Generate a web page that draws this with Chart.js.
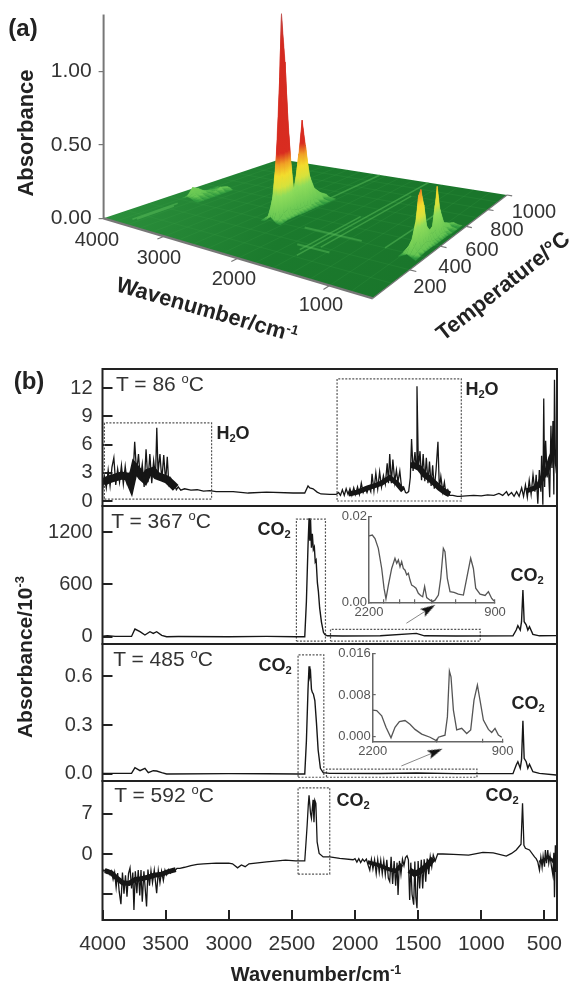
<!DOCTYPE html>
<html>
<head>
<meta charset="utf-8">
<script src="https://cdn.jsdelivr.net/npm/chart.js@4"></script>
<style>
  body { margin: 0; background: #fff; }
  #page { position: relative; width: 573px; height: 983px; overflow: hidden; font-family: "Liberation Sans", Arial, sans-serif; color: #333; filter: blur(0.35px); }
  canvas { position: absolute; left: 0; top: 0; }
  .t { position: absolute; white-space: nowrap; line-height: 1; transform: translate(-50%, -50%); }
  .b { font-weight: bold; color: #222; }
  .t sup { font-size: 62%; line-height: 0; vertical-align: 0.55em; }
  .t sub { font-size: 62%; line-height: 0; vertical-align: -0.25em; }
  .n { font-size: 20px; }
  .co { font-size: 18px; font-weight: bold; color: #222; }
  .temp { font-size: 21px; }
</style>
</head>
<body>
<div id="page">
  <div id="plots"></div>

  <div class="t b" style="left:23px;top:28px;font-size:24px">(a)</div>
  <div class="t b" style="left:29px;top:381px;font-size:24px">(b)</div>

  <div class="t b" style="left:26px;top:133px;font-size:22px;transform:translate(-50%,-50%) rotate(-90deg)">Absorbance</div>
  <div class="t n" style="left:97px;top:239px">4000</div>
  <div class="t n" style="left:159px;top:257px">3000</div>
  <div class="t n" style="left:234px;top:278px">2000</div>
  <div class="t n" style="left:321px;top:304px">1000</div>
  <div class="t n" style="left:534px;top:211px">1000</div>
  <div class="t n" style="left:507px;top:229px">800</div>
  <div class="t n" style="left:482px;top:249px">600</div>
  <div class="t n" style="left:455px;top:266px">400</div>
  <div class="t n" style="left:430px;top:286px">200</div>
  <div class="t b" style="left:207px;top:310px;font-size:22px;transform:translate(-50%,-50%) rotate(16deg)">Wavenumber/cm<sup>-1</sup></div>
  <div class="t b" style="left:503px;top:286px;font-size:22px;transform:translate(-50%,-50%) rotate(-38deg)">Temperature/°C</div>

  <div class="t temp" style="left:160px;top:383px">T = 86 <sup>o</sup>C</div>
  <div class="t temp" style="left:161px;top:520px">T = 367 <sup>o</sup>C</div>
  <div class="t temp" style="left:163px;top:658px">T = 485 <sup>o</sup>C</div>
  <div class="t temp" style="left:164px;top:794px">T = 592 <sup>o</sup>C</div>

  <div class="t co" style="left:233px;top:433px">H<sub>2</sub>O</div>
  <div class="t co" style="left:482px;top:389px">H<sub>2</sub>O</div>
  <div class="t co" style="left:274px;top:529px">CO<sub>2</sub></div>
  <div class="t co" style="left:527px;top:575px">CO<sub>2</sub></div>
  <div class="t co" style="left:275px;top:665px">CO<sub>2</sub></div>
  <div class="t co" style="left:528px;top:703px">CO<sub>2</sub></div>
  <div class="t co" style="left:353px;top:800px">CO<sub>2</sub></div>
  <div class="t co" style="left:502px;top:795px">CO<sub>2</sub></div>

  <div class="t b" style="left:24px;top:657px;font-size:21px;transform:translate(-50%,-50%) rotate(-90deg)">Absorbance/10<sup>-3</sup></div>
  <div class="t b" style="left:316px;top:974px;font-size:20px">Wavenumber/cm<sup>-1</sup></div>
</div>

<script>
// T = 86 C spectrum
const wn86 = [
  4000,3985,3970,3955,3940,3925,3910,3895,3880,3865,
  3850,3835,3820,3805,3790,3775,3760,3745,3730,3715,
  3700,3685,3670,3655,3640,3625,3610,3595,3580,3570,
  3560,3545,3530,3515,3500,3487,3475,3460,3445,3430,
  3415,3400,3380,3350,3300,3250,3200,3150,3100,2965,
  2846,2701,2490,2398,2372,2358,2332,2300,2270,2200,
  2150,2130,2115,2100,2085,2070,2055,2040,2025,2010,
  1995,1980,1965,1950,1935,1920,1905,1890,1875,1865,
  1850,1835,1820,1805,1790,1775,1760,1745,1735,1725,
  1712,1700,1685,1672,1660,1645,1630,1615,1600,1590,
  1575,1562,1552,1540,1525,1515,1509,1498,1485,1473,
  1460,1447,1435,1422,1410,1397,1385,1372,1358,1343,
  1332,1320,1305,1292,1280,1265,1250,1225,1190,1170,
  1120,1060,1000,950,900,860,830,800,785,760,
  740,720,700,680,665,650,635,620,605,590,
  575,565,552,540,528,522,512,505,498,490,
  478,470,458,448,440,432,425,420,412,405,400];
const abs86 = [
  1.2,2.6,1.4,3.3,1.6,3.6,4.6,1.7,3.4,2.0,
  3.8,1.8,3.7,2.0,2.8,1.4,2.2,6.3,3.0,5.0,
  2.3,3.9,1.5,5.5,2.0,5.0,1.9,4.3,2.6,7.8,
  3.0,5.0,2.2,4.9,2.0,4.7,1.8,2.4,1.4,1.8,
  1.2,1.5,1.15,1.3,1.15,1.2,1.05,1.1,1.0,1.0,
  .85,.95,.85,.85,1.6,1.4,1.3,.95,.75,.7,
  .7,.9,.6,1.2,.6,1.3,.7,1.3,.6,1.4,
  .7,1.5,.7,1.9,.9,1.4,.9,1.5,1.0,2.9,
  1.1,3.0,1.3,3.1,1.5,2.7,1.8,4.0,1.9,5.0,
  1.9,4.4,2.0,3.3,2.0,3.2,1.3,1.5,.9,.85,
  1.0,2.5,6.6,3.2,5.2,3.5,12.2,3.5,5.3,2.2,
  5.0,2.1,4.6,1.9,4.2,1.6,3.8,1.3,3.3,6.3,
  1.3,2.6,1.0,2.0,.8,1.2,.6,.6,.5,.5,
  .55,.6,.55,.65,.6,.8,.6,1.0,.6,.9,
  .5,1.0,.5,1.4,.5,1.7,.4,2.2,.7,2.8,
  1.0,2.8,-.3,3.3,1.0,4.8,-.4,10.9,1.5,6.4,
  2.5,4.2,.4,8.0,3.5,8.5,.7,12.9,4,3.0,2.8];
// centre of the solid black band where the rotational lines merge
const wnBandA86 = [3995,3950,3900,3850,3800,3775,3745,3720,3690,3665,3640,3600,3570,3530,3490,3450,3420];
const absBandA86 = [2.0,2.3,2.5,2.7,2.6,1.8,3.6,3.2,2.6,2.3,3.0,3.2,2.7,2.5,2.3,1.8,1.4];
const wnBandB86 = [2050,1980,1900,1850,1790,1725,1670,1620];
const absBandB86 = [.75,.95,1.4,1.6,1.9,2.5,1.9,1.1];
const wnBandC86 = [1560,1530,1490,1450,1410,1370,1330,1290,1250];
const absBandC86 = [3.8,3.8,3.5,2.8,2.4,1.9,1.4,1.0,.7];
const wnBandD86 = [640,590,550,510,480,450,420];
const absBandD86 = [1.1,1.3,1.6,2.6,3.2,4.6,5.5];

// T = 367 C spectrum
const wn367 = [
  4000,3960,3900,3770,3743,3703,3664,3624,3598,3571,
  3531,3492,3400,3000,2700,2464,2398,2385,2372,2364,
  2358,2352,2345,2338,2330,2322,2315,2308,2298,2290,
  2280,2266,2250,2239,2220,2100,1800,1514,1450,1200,
  749,723,710,691,681,670,660,644,631,618,
  591,539,407];
const abs367 = [
  5,12,4,3,88,57,19,57,38,57,
  15,0,2,0,3,0,0,400,1050,1360,
  1100,1340,1020,1180,1000,1030,860,880,620,520,
  330,170,50,25,10,8,10,38,10,8,
  10,76,126,76,172,536,172,136,76,115,
  27,10,12];

// T = 485 C spectrum
const wn485 = [
  4000,3900,3770,3743,3703,3664,3637,3598,3571,3531,
  3492,3000,2700,2451,2398,2385,2372,2364,2358,2352,
  2345,2338,2330,2318,2305,2292,2274,2252,2200,1800,
  1514,1200,749,723,710,691,681,670,660,644,
  631,618,591,539,407];
const abs485 = [
  .004,.004,.004,.039,.02,.035,.008,.02,.018,.008,
  0,.002,.001,0,0,.2,.52,.66,.6,.62,
  .52,.5,.49,.45,.31,.147,.035,.008,.004,.003,
  .006,.002,.002,.055,.075,.035,.086,.326,.096,.075,
  .035,.06,.014,.004,-.006];

// T = 592 C spectrum
const wn592 = [
  4000,3988,3976,3964,3952,3940,3928,3916,3904,3892,
  3880,3868,3854,3842,3830,3818,3806,3794,3782,3770,
  3760,3751,3740,3728,3717,3705,3695,3685,3672,3660,
  3651,3640,3628,3616,3604,3590,3571,3558,3545,3532,
  3518,3505,3492,3478,3462,3445,3430,3410,3387,3350,
  3300,3250,3200,3100,3000,2970,2930,2900,2870,2840,
  2700,2550,2470,2398,2385,2379,2370,2364,2352,2345,
  2332,2325,2318,2310,2300,2284,2252,2200,2121,2015,
  2000,1985,1970,1955,1940,1925,1910,1895,1883,1870,
  1858,1845,1832,1820,1808,1796,1784,1772,1760,1748,
  1736,1725,1714,1702,1690,1678,1667,1659,1648,1636,
  1624,1612,1600,1588,1577,1567,1558,1548,1535,1526,
  1518,1509,1500,1488,1475,1464,1452,1440,1428,1416,
  1404,1392,1380,1365,1345,1303,1220,1100,987,905,
  802,760,723,685,673,662,650,618,578,565,
  552,539,528,518,510,499,492,483,473,465,
  455,445,433,425,420,413,407,400];
const abs592 = [
  -2.6,-3.0,-2.7,-3.3,-2.9,-3.6,-3.0,-4.4,-3.2,-5.8,
  -3.3,-6.5,-8.7,-3.2,-6.9,-3.7,-7.4,-3.4,-2.4,-6.0,
  -3.2,-9.7,-3.0,-6.8,-2.8,-7.2,-2.8,-8.3,-3.0,-6.5,
  -9.1,-2.7,-5.5,-2.9,-5.0,-2.8,-6.8,-2.9,-5.0,-3.0,
  -4.6,-2.8,-3.6,-2.7,-3.3,-2.6,-3.0,-2.5,-2.5,-2.3,
  -2.0,-1.8,-1.7,-1.6,-1.6,-1.7,-2.4,-1.9,-2.2,-1.7,
  -1.35,-1.05,-1.2,-1.2,3,5.0,8.5,10.2,7,6.2,
  9.4,5.5,9.3,8.8,2.1,.1,-.5,-.5,-.75,-1.0,
  -.8,-1.4,-.8,-1.5,-.9,-1.3,-.9,-2.0,-2.8,-.9,
  -2.6,-1.0,-3.4,-1.0,-3.2,-1.1,-3.4,-1.2,-3.6,-1.0,
  -4.2,-4.8,-.5,-5.2,-1.2,-5.5,-1.5,-7.1,-1.2,-3.5,
  -.9,-2.0,-.6,-.3,-1.0,-8.0,-1.5,-7.0,-8.8,-1.3,
  -7.5,-9.4,-1.2,-6.0,-1.0,-6.0,-.9,-4.8,-.8,-3.5,
  -.5,-2.2,-.2,-1.2,0,0,-.05,-.2,.3,.2,
  -.35,.1,.7,1.7,8.8,1.5,1.0,.7,-.5,-.8,
  -1.4,-2.8,-.6,-2.3,-.4,-2.2,.7,-1.6,.7,-1.6,
  -.3,-2.0,-3.6,.2,-7.5,1.5,-3,-3];
const wnBandA592 = [3980,3930,3880,3840,3790,3740,3690,3640,3590,3530,3470,3420];
const absBandA592 = [-2.9,-3.3,-4.3,-5.0,-5.1,-4.4,-4.3,-4.0,-3.7,-3.5,-3.0,-2.7];
const wnBandB592 = [1900,1800,1740,1680,1630];
const absBandB592 = [-1.4,-2.0,-2.6,-3.0,-1.8];
const wnBandC592 = [1570,1530,1500,1460,1420,1380];
const absBandC592 = [-2.8,-3.4,-3.2,-2.6,-1.8,-.8];
const wnBandD592 = [540,500,470,440,420];
const absBandD592 = [-1.4,-1.0,-.5,-1.0,-1.5];

// insets
const wnInset367 = [
  2200,2166,2138,2104,2069,2045,2025,2000,1966,1932,
  1914,1897,1880,1863,1846,1828,1811,1794,1777,1760,
  1736,1715,1691,1667,1646,1626,1605,1570,1543,1519,
  1484,1460,1433,1416,1392,1364,1323,1278,1226,1192,
  1151,1123,1099,1054,1002,968,934,910];
const absInset367 = [
  .0155,.0157,.0149,.0126,.0079,.0033,.0008,.004,.0079,.0103,
  .0091,.0099,.0083,.0095,.0079,.0075,.0064,.0068,.0052,.004,
  .0037,.0033,.0021,.0016,.0013,.0037,.0011,.0005,.0002,.0005,
  .0017,.0056,.0126,.0118,.0056,.0025,.0023,.0019,.0017,.0056,
  .0103,.0079,.0033,.0019,.0016,.0025,.0009,.0003];
const wnInset485 = [
  2200,2160,2110,2067,2017,1977,1933,1877,1827,1777,
  1710,1627,1560,1543,1477,1453,1433,1417,1393,1360,
  1310,1260,1220,1187,1153,1127,1093,1043,1010,977,
  943,910];
const absInset485 = [
  .0051,.005,.004,.0018,-.0002,.0018,.0029,.0031,.0024,.0014,
  .0005,-.0001,-.0008,-.0001,.0003,.0038,.0126,.0115,.0051,.0013,
  .0016,.0006,.0013,.007,.0099,.007,.0032,.0014,.0008,.0016,
  .0003,-.0001];

// tick values and labels
const xTicks = [4000,3500,3000,2500,2000,1500,1000,500];
const ticks86 = [12,9,6,3,0];
const labels86 = ['12','9','6','3','0'];
const ticks367 = [1200,600,0];
const labels367 = ['1200','600','0'];
const ticks485 = [0.6,0.3,0];
const labels485 = ['0.6','0.3','0.0'];
const ticks592 = [7,0,-7];
const labels592 = ['7','0',''];
const insetXTicks367 = [2200,2045,1887,1725,1553,1306,1100,900];
const insetXLabels367 = ['2200','','','','','','','900'];
const insetYTicks367 = [0.02,0];
const insetYLabels367 = ['0.02','0.00'];
const insetXTicks485 = [2200,1560,1100,900];
const insetXLabels485 = ['2200','','','900'];
const insetYTicks485 = [0.016,0.008,0];
const insetYLabels485 = ['0.016','0.008','0.000'];
const absTicks = [1,0.5,0];
const absLabels = ['1.00','0.50','0.00'];

// dashed boxes: wavenumber from, to, absorbance from, to
const boxH2oLeft = [3985,3136,0.2,8.3];
const boxH2oRight = [2142,1158,0,13];
const boxCo2_367 = [2464,2234,-50,1350];
const boxZoom_367 = [2194,1008,-50,85];
const boxCo2_485 = [2451,2247,-0.02,0.73];
const boxZoom_485 = [2226,1034,-0.02,0.03];
const boxCo2_592 = [2451,2200,-3.5,11.5];

// arrows from the zoom boxes to the insets
const arrowWn367 = [1593,1415];
const arrowAbs367 = [154,319];
const arrowWn485 = [1633,1362];
const arrowAbs485 = [0.049,0.136];

// 3D surface (a): absorbance rows, one row per temperature, back to front
const co2Wn = [2480,2430,2395,2375,2350,2325,2305,2270,2220];
const co2Temps = [620,580,540,510,485,465,445,425,405,385,365,345,325,305,285];
const co2Rows = [
  [0,0,.005,.01,.02,.01,.005,0,0],
  [0,.005,.01,.03,.05,.03,.01,.005,0],
  [0,.01,.03,.07,.10,.07,.03,.01,0],
  [.005,.015,.05,.14,.20,.14,.06,.015,.005],
  [.005,.02,.09,.30,.42,.31,.10,.02,.005],
  [.005,.02,.12,.42,.60,.44,.15,.03,.005],
  [.005,.02,.09,.27,.38,.28,.10,.03,.005],
  [.005,.02,.09,.14,.17,.15,.10,.03,.005],
  [.005,.03,.10,.14,.16,.15,.11,.03,.005],
  [.01,.03,.15,.38,.55,.40,.17,.04,.01],
  [.01,.04,.28,.75,1.05,.78,.30,.05,.01],
  [.01,.05,.34,.95,1.39,.98,.38,.06,.01],
  [.01,.03,.20,.40,.55,.42,.22,.05,.01],
  [.005,.02,.09,.14,.18,.15,.10,.03,.005],
  [0,.005,.02,.03,.04,.03,.02,.005,0]];
const bendWn = [815,785,755,730,705,675,645];
const bendTemps = [600,560,520,490,470,455,435,415,395,375,355,340,320,295,265];
const bendRows = [
  [0,0,.005,.01,.005,0,0],
  [0,.005,.01,.03,.01,.005,0],
  [0,.01,.03,.06,.03,.01,0],
  [.005,.02,.05,.17,.06,.02,.005],
  [.005,.03,.09,.34,.10,.03,.005],
  [.005,.03,.07,.22,.08,.03,.005],
  [.005,.02,.05,.09,.06,.02,.005],
  [.005,.02,.06,.08,.06,.02,.005],
  [.005,.03,.07,.12,.08,.03,.005],
  [.01,.04,.11,.28,.12,.04,.01],
  [.01,.05,.14,.40,.15,.05,.01],
  [.01,.05,.12,.37,.13,.05,.01],
  [.01,.04,.09,.20,.09,.04,.01],
  [.005,.03,.06,.10,.06,.03,.005],
  [0,.01,.02,.03,.02,.01,0]];
const waterWn = [3790,3750,3710,3680,3640,3600,3560,3520];
const waterTemps = [500,460,430,400,370,340,310];
const waterRows = [
  [0,0,0,.005,.01,.015,.01,0],
  [0,0,.005,.01,.015,.03,.015,0],
  [0,.005,.01,.01,.01,.015,.01,0],
  [.005,.01,.02,.02,.01,.01,.005,0],
  [.01,.02,.05,.035,.02,.01,.005,0],
  [.01,.03,.07,.04,.03,.015,.005,0],
  [.005,.01,.02,.02,.015,.005,0,0]];

// light streaks on the floor
const streakWn = [2290,1650,1590,1520,1010,3700,3660];
const streakFrom = [350,150,110,200,300,50,60];
const streakTo = [1000,500,1000,800,700,260,230];
const ridgeTemps = [310,180];
const ridgeFrom = [1960,1750];
const ridgeTo = [1280,1380];
const gridWn = [3800,3600,3400,3200,3000,2800,2600,2400,2200,2000,1800,1600,1400,1200,1000,800];
const gridTemps = [100,200,300,400,500,600,700,800,900];
const waveAxisTicks = [3000,2000,1000];
const tempAxisTicks = [200,400,600,800,1000];

const plots = document.getElementById('plots');
function addCanvas() {
  const c = document.createElement('canvas');
  c.width = 573;
  c.height = 983;
  plots.appendChild(c);
  return c;
}

const frame = {
  id: 'frame',
  afterDatasetsDraw(chart) {
    const a = chart.chartArea, ctx = chart.ctx;
    ctx.save();
    ctx.strokeStyle = '#222';
    ctx.lineWidth = 2;
    ctx.strokeRect(a.left, a.top, a.right - a.left, a.bottom - a.top);
    ctx.restore();
  }
};

function trace(wn, abs, color, width) {
  return { data: wn.map((w, i) => ({ x: w, y: abs[i] })), showLine: true, borderColor: color, borderWidth: width, pointRadius: 0, tension: 0 };
}

function dashedBox(b) {
  return {
    data: [{x:b[0],y:b[2]},{x:b[1],y:b[2]},{x:b[1],y:b[3]},{x:b[0],y:b[3]},{x:b[0],y:b[2]}],
    showLine: true, borderColor: '#555', borderWidth: 1.2, borderDash: [2, 1.5], pointRadius: 0, tension: 0
  };
}

// long thin arrow head, pointing up before rotation
const arrowHead = document.createElement('canvas');
arrowHead.width = 9;
arrowHead.height = 15;
const headCtx = arrowHead.getContext('2d');
headCtx.fillStyle = '#111';
headCtx.beginPath();
headCtx.moveTo(4.5, 0);
headCtx.lineTo(9, 15);
headCtx.lineTo(4.5, 12);
headCtx.lineTo(0, 15);
headCtx.closePath();
headCtx.fill();

function arrow(wn, abs, rotation) {
  return {
    data: wn.map((w, i) => ({ x: w, y: abs[i] })),
    showLine: true, borderColor: '#888', borderWidth: 1, tension: 0,
    pointRadius: [0, 7], pointStyle: arrowHead, pointRotation: rotation
  };
}

// one stacked spectrum panel
function spectrum(plot, yMin, yMax, yTicks, yLabels, datasets, showX) {
  new Chart(addCanvas(), {
    type: 'scatter',
    data: { datasets },
    plugins: [frame],
    options: {
      responsive: false,
      animation: false,
      layout: { padding: { left: plot.left - 60, top: plot.top, right: 573 - plot.right, bottom: showX ? 983 - plot.bottom - 50 : 983 - plot.bottom } },
      plugins: { legend: { display: false }, tooltip: { enabled: false } },
      scales: {
        x: {
          type: 'linear', reverse: true, min: 400, max: 4000, display: showX,
          border: { display: false },
          grid: { drawOnChartArea: false, tickLength: -10, color: '#222', lineWidth: 2 },
          ticks: { padding: 22, maxRotation: 0, autoSkip: false, color: '#333', font: { family: 'Liberation Sans', size: 21 }, callback: v => String(v) },
          afterBuildTicks: s => { s.ticks = xTicks.map(v => ({ value: v })); },
          afterFit: s => { s.height = showX ? 50 : 0; s.paddingLeft = 0; s.paddingRight = 0; }
        },
        y: {
          min: yMin, max: yMax,
          border: { display: false },
          grid: { drawOnChartArea: false, tickLength: -10, color: '#222', lineWidth: 2 },
          ticks: { padding: 20, autoSkip: false, color: '#333', font: { family: 'Liberation Sans', size: 20 }, callback: (v, i) => yLabels[i] },
          afterBuildTicks: s => { s.ticks = yTicks.map(v => ({ value: v })); },
          afterFit: s => { s.width = 60; s.paddingTop = 0; s.paddingBottom = 0; }
        }
      }
    }
  });
}

function inset(plot, yMin, yMax, xT, xL, yT, yL, wn, abs) {
  new Chart(addCanvas(), {
    type: 'scatter',
    data: { datasets: [trace(wn, abs, '#555', 1.3)] },
    options: {
      responsive: false,
      animation: false,
      layout: { padding: { left: plot.left - 40, top: plot.top, right: 573 - plot.right, bottom: 983 - plot.bottom - 20 } },
      plugins: { legend: { display: false }, tooltip: { enabled: false } },
      scales: {
        x: {
          type: 'linear', reverse: true, min: 900, max: 2200,
          border: { color: '#666', width: 1.5 },
          grid: { drawOnChartArea: false, tickLength: -3, color: '#666', lineWidth: 1.2 },
          ticks: { padding: 5, maxRotation: 0, autoSkip: false, color: '#555', font: { family: 'Liberation Sans', size: 13 }, callback: (v, i) => xL[i] },
          afterBuildTicks: s => { s.ticks = xT.map(v => ({ value: v })); },
          afterFit: s => { s.height = 20; s.paddingLeft = 0; s.paddingRight = 0; }
        },
        y: {
          min: yMin, max: yMax,
          border: { color: '#666', width: 1.5 },
          grid: { drawOnChartArea: false, tickLength: -3, color: '#666', lineWidth: 1.2 },
          ticks: { padding: 5, autoSkip: false, color: '#555', font: { family: 'Liberation Sans', size: 13 }, callback: (v, i) => yL[i] },
          afterBuildTicks: s => { s.ticks = yT.map(v => ({ value: v })); },
          afterFit: s => { s.width = 40; s.paddingTop = 0; s.paddingBottom = 0; }
        }
      }
    }
  });
}

const black = '#161616';
spectrum({ left: 102.5, right: 557, top: 369, bottom: 506 }, -0.53, 14.04, ticks86, labels86,
  [trace(wn86, abs86, black, 1.3), trace(wnBandA86, absBandA86, black, 8), trace(wnBandB86, absBandB86, black, 5),
   trace(wnBandC86, absBandC86, black, 6), trace(wnBandD86, absBandD86, black, 5), dashedBox(boxH2oLeft), dashedBox(boxH2oRight)], false);
spectrum({ left: 102.5, right: 557, top: 506, bottom: 644 }, -84, 1500, ticks367, labels367,
  [trace(wn367, abs367, black, 1.4), dashedBox(boxCo2_367), dashedBox(boxZoom_367), arrow(arrowWn367, arrowAbs367, 58)], false);
spectrum({ left: 102.5, right: 557, top: 644, bottom: 781 }, -0.043, 0.796, ticks485, labels485,
  [trace(wn485, abs485, black, 1.4), dashedBox(boxCo2_485), dashedBox(boxZoom_485), arrow(arrowWn485, arrowAbs485, 67)], false);
spectrum({ left: 102.5, right: 557, top: 781, bottom: 920 }, -11.46, 12.68, ticks592, labels592,
  [trace(wn592, abs592, black, 1.3), trace(wnBandA592, absBandA592, black, 5), trace(wnBandB592, absBandB592, black, 4),
   trace(wnBandC592, absBandC592, black, 6), trace(wnBandD592, absBandD592, black, 3), dashedBox(boxCo2_592)], true);

inset({ left: 369, right: 495, top: 516.7, bottom: 602.3 }, 0, 0.02,
  insetXTicks367, insetXLabels367, insetYTicks367, insetYLabels367, wnInset367, absInset367);
inset({ left: 372.7, right: 502.7, top: 653.3, bottom: 741.7 }, -0.00096, 0.016,
  insetXTicks485, insetXLabels485, insetYTicks485, insetYLabels485, wnInset485, absInset485);

// --- panel (a): perspective view of the floor, heights in absorbance units ---
const floorLeft = [103.6, 218.3], floorFront = [372.8, 298.3], floorRight = [507, 195], floorBack = [280, 159.3];
const pxPerAbs = 146.6, waveLeft = 4000, waveRight = 600;
const sx = floorLeft[0] - floorFront[0] + floorRight[0] - floorBack[0];
const sy = floorLeft[1] - floorFront[1] + floorRight[1] - floorBack[1];
const d1x = floorFront[0] - floorRight[0], d2x = floorBack[0] - floorRight[0];
const d1y = floorFront[1] - floorRight[1], d2y = floorBack[1] - floorRight[1];
const det = d1x * d2y - d2x * d1y;
const hg = (sx * d2y - d2x * sy) / det;
const hh = (d1x * sy - sx * d1y) / det;

function floorPx(w, T) {
  const u = (waveLeft - w) / (waveLeft - waveRight), v = T / 1000;
  const D = 1 + hg * u + hh * v;
  return [
    (floorLeft[0] + (floorFront[0] - floorLeft[0] + hg * floorFront[0]) * u + (floorBack[0] - floorLeft[0] + hh * floorBack[0]) * v) / D,
    (floorLeft[1] + (floorFront[1] - floorLeft[1] + hg * floorFront[1]) * u + (floorBack[1] - floorLeft[1] + hh * floorBack[1]) * v) / D
  ];
}
// to chart coordinates: x in canvas pixels, y on the absorbance axis
function project(w, T, z) {
  const p = floorPx(w, T);
  return { x: p[0], y: (floorLeft[1] - p[1]) / pxPerAbs + z };
}

const surfaceCanvas = addCanvas();
const sctx = surfaceCanvas.getContext('2d');

function heightGradient(baseY) {
  const top = 1.5;
  const g = sctx.createLinearGradient(0, baseY, 0, baseY - top * pxPerAbs);
  [[0, '#2f9a3e'], [.015, '#66c653'], [.11, '#8fdc5a'], [.15, '#d6e23c'], [.2, '#f3dc2c'],
   [.25, '#f0a024'], [.3, '#d92c20'], [.8, '#d32a20'], [.9, '#c4403c'], [1, '#b89a9a']].forEach(s => g.addColorStop(s[0], s[1]));
  return g;
}

// small filled quads between neighbouring rows, back rows first
function meshQuads(wn, temps, rows) {
  const out = [];
  for (let j = 0; j < temps.length - 1; j++) {
    for (let i = 0; i < wn.length - 1; i++) {
      const fill = heightGradient(floorPx((wn[i] + wn[i + 1]) / 2, (temps[j] + temps[j + 1]) / 2)[1]);
      out.push({
        data: [project(wn[i], temps[j], rows[j][i]), project(wn[i + 1], temps[j], rows[j][i + 1]),
               project(wn[i + 1], temps[j + 1], rows[j + 1][i + 1]), project(wn[i], temps[j + 1], rows[j + 1][i])],
        showLine: true, fill: 'shape', borderColor: fill, borderWidth: 0.5, pointRadius: 0, tension: 0, backgroundColor: fill
      });
    }
  }
  return out;
}

function seg(a, b, color, width) {
  return { data: [a, b], showLine: true, borderColor: color, borderWidth: width, pointRadius: 0, tension: 0, clip: false };
}

const floorFill = sctx.createLinearGradient(120, 190, 400, 300);
floorFill.addColorStop(0, '#2b8f3b');
floorFill.addColorStop(0.55, '#1b7a2d');
floorFill.addColorStop(1, '#1a762b');

const surface = [];
surface.push({
  data: [project(waveLeft, 0, 0), project(waveRight, 0, 0), project(waveRight, 1000, 0), project(waveLeft, 1000, 0)],
  showLine: true, fill: 'shape', borderWidth: 0, pointRadius: 0, tension: 0, backgroundColor: floorFill
});
gridWn.forEach(w => surface.push(seg(project(w, 0, 0), project(w, 1000, 0), 'rgba(60,160,75,.28)', 0.7)));
gridTemps.forEach(T => surface.push(seg(project(waveLeft, T, 0), project(waveRight, T, 0), 'rgba(60,160,75,.28)', 0.7)));
streakWn.forEach((w, i) => surface.push(seg(project(w, streakFrom[i], 0), project(w, streakTo[i], 0), 'rgba(90,190,90,.5)', 1.5)));
ridgeTemps.forEach((T, i) => surface.push(seg(project(ridgeFrom[i], T, 0), project(ridgeTo[i], T, 0), 'rgba(90,190,90,.45)', 2)));
surface.push(...meshQuads(waterWn, waterTemps, waterRows));
surface.push(...meshQuads(co2Wn, co2Temps, co2Rows));
surface.push(...meshQuads(bendWn, bendTemps, bendRows));
// axes of the box
surface.push(seg(project(waveLeft, 0, 0), project(waveLeft, 0, 1.39), '#777', 2));
surface.push(seg(project(waveLeft, 0, 0), project(waveRight, 0, 0), '#777', 2.4));
surface.push(seg(project(waveRight, 0, 0), project(waveRight, 1000, 0), '#777', 1.2));
waveAxisTicks.forEach(w => surface.push(seg(project(w, 0, 0), project(w, -28, 0), '#777', 1.2)));
tempAxisTicks.forEach(T => surface.push(seg(project(waveRight, T, 0), project(waveRight - 60, T, 0), '#777', 1.2)));
// first dataset is normally on top, the painter order needs the opposite
surface.forEach((d, i) => { d.order = surface.length - i; });

new Chart(surfaceCanvas, {
  type: 'scatter',
  data: { datasets: surface },
  options: {
    responsive: false,
    animation: false,
    layout: { padding: { left: floorLeft[0] - 60, top: 0, right: 0, bottom: 983 - 330 } },
    plugins: { legend: { display: false }, tooltip: { enabled: false } },
    scales: {
      x: { type: 'linear', min: floorLeft[0], max: 573, display: false },
      y: {
        min: (floorLeft[1] - 330) / pxPerAbs, max: floorLeft[1] / pxPerAbs,
        border: { display: false },
        grid: { drawOnChartArea: false, tickLength: 5, color: '#777', lineWidth: 1.2 },
        ticks: { padding: 7, autoSkip: false, color: '#333', font: { family: 'Liberation Sans', size: 21 }, callback: (v, i) => absLabels[i] },
        afterBuildTicks: s => { s.ticks = absTicks.map(v => ({ value: v })); },
        afterFit: s => { s.width = 60; s.paddingTop = 0; s.paddingBottom = 0; }
      }
    }
  }
});
</script>
</body>
</html>
